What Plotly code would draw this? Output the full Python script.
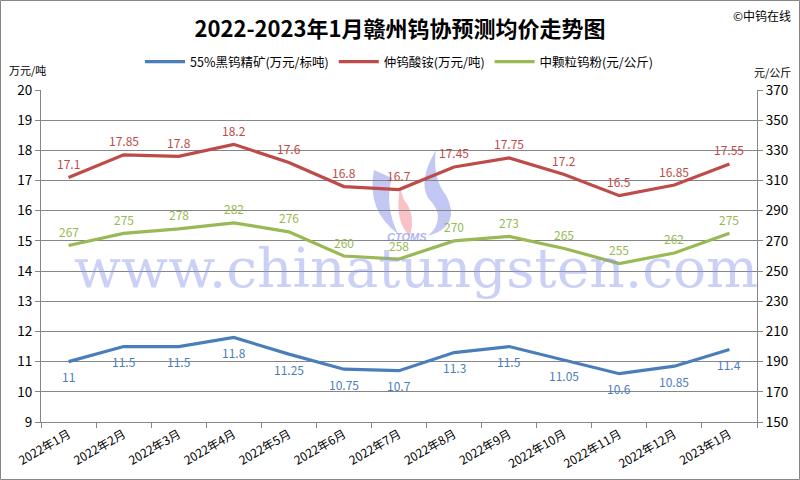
import plotly.graph_objects as go

categories = ["2022年1月", "2022年2月", "2022年3月", "2022年4月", "2022年5月", "2022年6月",
              "2022年7月", "2022年8月", "2022年9月", "2022年10月", "2022年11月", "2022年12月", "2023年1月"]
concentrate = [11, 11.5, 11.5, 11.8, 11.25, 10.75, 10.7, 11.3, 11.5, 11.05, 10.6, 10.85, 11.4]
apt = [17.1, 17.85, 17.8, 18.2, 17.6, 16.8, 16.7, 17.45, 17.75, 17.2, 16.5, 16.85, 17.55]
powder = [267, 275, 278, 282, 276, 260, 258, 270, 273, 265, 255, 262, 275]

names = ["55%黑钨精矿(万元/标吨)", "仲钨酸铵(万元/吨)", "中颗粒钨粉(元/公斤)"]
colors = ["#4A7EBB", "#BE4B48", "#98B954"]

FONT = "Noto Sans CJK SC, Liberation Sans, sans-serif"
L, R, T, B = 41, 43, 90, 58
PW, PH = 800 - L - R, 480 - T - B


def px(x):
    return (x - L) / PW


def py(y):
    return (480 - B - y) / PH


fig = go.Figure()
fig.add_trace(go.Scatter(x=categories, y=concentrate, name=names[0], mode="lines",
                         line=dict(color=colors[0], width=3.2)))
fig.add_trace(go.Scatter(x=categories, y=apt, name=names[1], mode="lines",
                         line=dict(color=colors[1], width=3.2)))
fig.add_trace(go.Scatter(x=categories, y=powder, name=names[2], mode="lines", yaxis="y2",
                         line=dict(color=colors[2], width=3.2)))

# data labels
for c, v in zip(categories, concentrate):
    fig.add_annotation(x=c, y=v, yref="y", text=f"{v:g}", showarrow=False, yshift=-15,
                       yanchor="middle", font=dict(color=colors[0], size=12))
for c, v in zip(categories, apt):
    fig.add_annotation(x=c, y=v, yref="y", text=f"{v:g}", showarrow=False, yshift=14,
                       yanchor="middle", font=dict(color=colors[1], size=12))
for c, v in zip(categories, powder):
    fig.add_annotation(x=c, y=v, yref="y2", text=f"{v:g}", showarrow=False, yshift=14,
                       yanchor="middle", font=dict(color=colors[2], size=12))

fig.update_layout(
    width=800, height=480,
    margin=dict(l=L, r=R, t=T, b=B, autoexpand=False),
    paper_bgcolor="white", plot_bgcolor="white",
    font=dict(family=FONT, color="#000000", size=12),
    title=dict(text="<b>2022-2023年1月赣州钨协预测均价走势图</b>", x=0.5, xanchor="center",
               y=1 - 29 / 480, yanchor="middle", font=dict(size=22, color="#000000")),
    showlegend=True,
    legend=dict(orientation="h", x=0.5, xanchor="center", y=py(62), yanchor="middle",
                font=dict(size=12.5), bgcolor="rgba(0,0,0,0)", itemwidth=40),
    xaxis=dict(type="category", tickangle=-30, showgrid=False, showline=True,
               linecolor="#868686", linewidth=1, ticks="outside", tickson="boundaries",
               ticklen=5, tickcolor="#868686", tickfont=dict(size=12), range=[-0.5, 12.5],
               automargin=False),
    yaxis=dict(range=[9, 20], tick0=9, dtick=1, showgrid=True, gridcolor="#868686", gridwidth=1,
               showline=True, linecolor="#868686", ticks="outside", ticklen=5,
               tickcolor="#868686", tickfont=dict(size=13.5), zeroline=False, automargin=False),
    yaxis2=dict(range=[150, 370], tick0=150, dtick=20, overlaying="y", side="right", showgrid=False,
                showline=True, linecolor="#868686", ticks="outside", ticklen=5,
                tickcolor="#868686", tickfont=dict(size=13.5), zeroline=False, automargin=False),
)

fig.add_annotation(text="©中钨在线", xref="paper", yref="paper", x=px(793), y=py(16),
                   xanchor="right", yanchor="middle", showarrow=False, font=dict(size=12))
fig.add_annotation(text="万元/吨", xref="paper", yref="paper", x=px(7), y=py(70),
                   xanchor="left", yanchor="middle", showarrow=False, font=dict(size=11))
fig.add_annotation(text="元/公斤", xref="paper", yref="paper", x=px(793), y=py(72),
                   xanchor="right", yanchor="middle", showarrow=False, font=dict(size=11))

# watermark
fig.add_annotation(text="www.chinatungsten.com", xref="paper", yref="paper", x=px(416), y=py(268),
                   xanchor="center", yanchor="middle", showarrow=False,
                   font=dict(size=55, family="DejaVu Serif, serif", color="rgba(140,150,235,0.45)"))
fig.add_annotation(text="<b><i>CTOMS</i></b>", xref="paper", yref="paper", x=px(407), y=py(237),
                   xanchor="center", yanchor="middle", showarrow=False,
                   font=dict(size=11, family="Liberation Sans, sans-serif", color="rgba(120,130,230,0.6)"))


def qpath(seq):
    out = []
    for item in seq:
        if isinstance(item, str):
            out.append(item)
        else:
            out.append(f"{px(item[0]):.4f},{py(item[1]):.4f}")
    return " ".join(out)


flames = [
    (["M", (374, 170), "Q", (366, 210), (398, 234), "Q", (384, 205), (392, 178), "Z"], "rgba(120,130,230,0.45)"),
    (["M", (400, 188), "Q", (394, 222), (410, 236), "Q", (416, 214), (404, 200), "Z"], "rgba(240,120,130,0.45)"),
    (["M", (436, 150), "Q", (418, 180), (428, 198), "Q", (448, 218), (428, 236),
      "Q", (462, 226), (446, 195), "Q", (432, 178), (436, 150), "Z"], "rgba(120,130,230,0.45)"),
]
for seq, col in flames:
    fig.add_shape(type="path", xref="paper", yref="paper", path=qpath(seq),
                  fillcolor=col, line=dict(width=0), layer="below")

fig.add_shape(type="rect", xref="paper", yref="paper", x0=px(0.5), x1=px(799.5),
              y0=py(479.5), y1=py(0.5), line=dict(color="#868686", width=1))

fig.write_html("out.html", config={"displayModeBar": False})
with open("out.html", "r", encoding="utf-8") as f:
    html = f.read()
html = html.replace("<head>", "<head><style>html,body{margin:0;padding:0;overflow:hidden;}</style>", 1)
with open("out.html", "w", encoding="utf-8") as f:
    f.write(html)
